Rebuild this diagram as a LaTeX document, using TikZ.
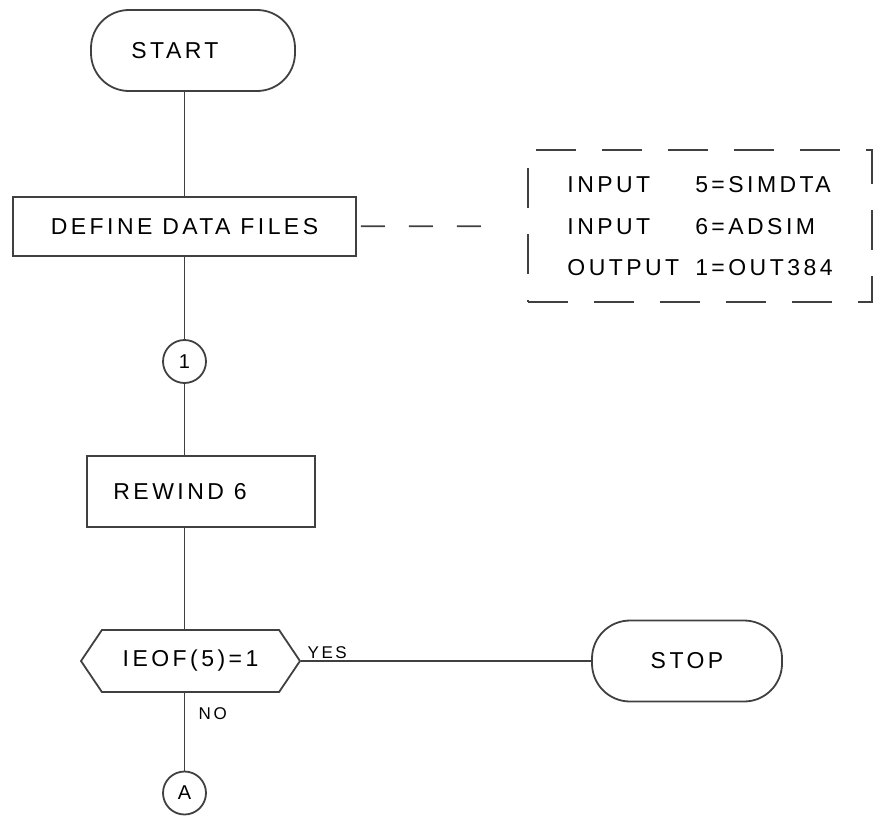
\documentclass[tikz,border=0pt]{standalone}
\usepackage{fontspec}
\setmainfont{Liberation Sans}[LetterSpace=15.0]
\usetikzlibrary{shapes.symbols}

\begin{document}
\begin{tikzpicture}[x=1pt,y=-1pt,
        every node/.style={font=\fontsize{23}{41.5}\selectfont},
        line/.style={draw=black!75,line width=1.8pt},
        term/.style={line,rectangle,rounded corners=38pt,minimum width=#1,minimum height=81pt},
        proc/.style={line,rectangle},
        conn/.style={line,circle,minimum size=43pt,inner sep=0pt,font=\fontsize{20}{24}\selectfont},
        decide/.style={line,signal,signal to=east and west,signal pointer angle=112,
            minimum width=219pt,minimum height=62pt},
        small/.style={font=\fontsize{17}{20}\selectfont},
        gapdash/.style={dash pattern=on 24pt off 24pt},
        notedash/.style={dash pattern=on 40pt off 26pt}]
        \useasboundingbox (0,0) rectangle (882,816);
        % flow line
        \node[term=204pt] (start) at (193,50.5) {START\rule{36pt}{0pt}};
        \node[proc,minimum width=343pt,minimum height=59pt] (define) at (184.5,226.5) {DEFINE DATA FILES};
        \node[conn] (c1) at (184.5,361.5) {1};
        \node[proc,minimum width=228pt,minimum height=71pt] (rewind) at (201,491.5) {REWIND 6\rule{42pt}{0pt}};
        \node[decide] (dec) at (190.5,661) {IEOF(5)=1};
        \node[conn] (cA) at (184.5,793) {A};
        \node[term=190pt] (stop) at (687,661) {STOP};
        % file assignments
        \node[line,notedash,minimum width=344pt,minimum height=152pt] (notes) at (700,226) {%
            \begin{tabular}{@{}l@{\hspace{16pt}}l@{}}
                INPUT & 5=SIMDTA \\
                INPUT & 6=ADSIM \\
                OUTPUT & 1=OUT384
            \end{tabular}};
        \draw[line] (start.south -| define) -- (define);
        \draw[line] (define) -- (c1);
        \draw[line] (c1) -- (c1 |- rewind.north);
        \draw[line] (rewind.south -| c1) -- (c1 |- dec.north);
        \draw[line] (c1 |- dec.south) -- node[small,pos=.27,right,xshift=10pt] {NO} (cA);
        \draw[line] (dec.east) -- node[small,pos=.09,above,inner sep=1pt] {YES} (stop.west);
        \draw[line,gapdash,shorten <=4pt,shorten >=38pt] (define) -- (notes);
    \end{tikzpicture}
\end{document}
